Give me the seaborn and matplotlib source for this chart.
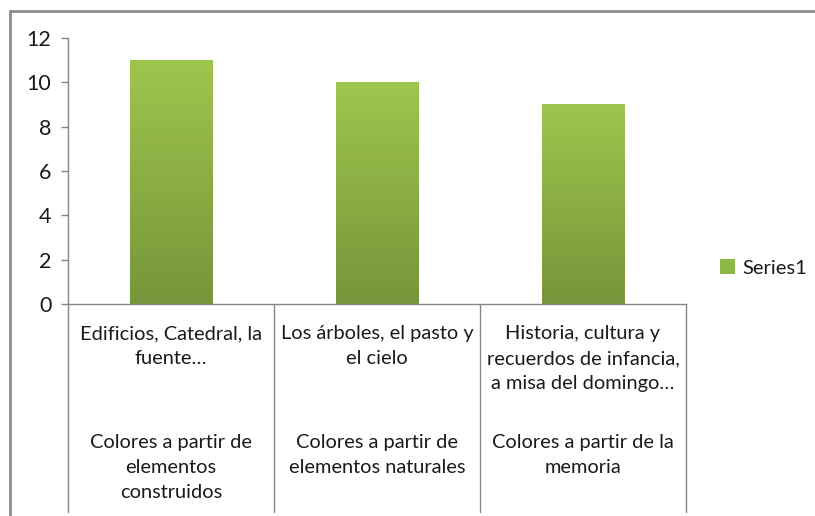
import matplotlib
matplotlib.use("Agg")
import matplotlib.pyplot as plt
import numpy as np
import pandas as pd
import seaborn as sns
from matplotlib.lines import Line2D
from matplotlib.patches import Patch
from matplotlib.colors import LinearSegmentedColormap

# Data
top_labels = ["Edificios, Catedral, la\nfuente…",
              "Los árboles, el pasto y\nel cielo",
              "Historia, cultura y\nrecuerdos de infancia,\na misa del domingo…"]
group_labels = ["Colores a partir de\nelementos\nconstruidos",
                "Colores a partir de\nelementos naturales",
                "Colores a partir de la\nmemoria"]
values = [11, 10, 9]
series_name = "Series1"
y_ticks = [0, 2, 4, 6, 8, 10, 12]

df = pd.DataFrame({"cat": top_labels, "value": values})

sns.set_style("white")
plt.rcParams['font.family'] = ['Lato', 'DejaVu Sans']

W, H = 815, 516
fig = plt.figure(figsize=(W / 100, H / 100), dpi=100)
ax = fig.add_axes([68 / W, (H - 304) / H, (686 - 68) / W, (304 - 38) / H])

sns.barplot(data=df, x="cat", y="value", color="#8db848", width=0.4, ax=ax,
            saturation=1, zorder=3)

# gradient fill on the bars
grad = LinearSegmentedColormap.from_list("g", ["#76953a", "#9ec64d"])
for p in ax.patches:
    x0, y0 = p.get_x(), p.get_y()
    w, h = p.get_width(), p.get_height()
    im = ax.imshow(np.linspace(0, 1, 256).reshape(-1, 1), cmap=grad, origin="lower",
                   extent=[x0, x0 + w, y0, y0 + h], aspect="auto", zorder=4)
    im.set_clip_path(p)
    p.set_edgecolor("none")

ax.set_xlim(-0.5, 2.5)
ax.set_ylim(0, 12)
ax.set_yticks(y_ticks)
ax.tick_params(axis="y", labelsize=15.5, length=5, width=1, color="#868686",
               left=True, pad=7, labelcolor="#1a1a1a")
ax.set_xticks([])
ax.set_xlabel("")
ax.set_ylabel("")
for s in ["top", "right"]:
    ax.spines[s].set_visible(False)
for s in ["left", "bottom"]:
    ax.spines[s].set_color("#868686")
    ax.spines[s].set_linewidth(1)

# category axis: separators and two label levels
low = -(512 - 304) / (304 - 38)
trans = ax.get_xaxis_transform()
for xb in [-0.5, 0.5, 1.5, 2.5]:
    ax.plot([xb, xb], [0, low], transform=trans, color="#868686", lw=1, clip_on=False)
for i in range(len(values)):
    ax.text(i, -(325 - 304) / 266, top_labels[i], transform=trans, ha="center", va="top",
            fontsize=14.4, linespacing=1.58, color="#1a1a1a")
    ax.text(i, -(434 - 304) / 266, group_labels[i], transform=trans, ha="center", va="top",
            fontsize=14.4, linespacing=1.58, color="#1a1a1a")

# legend
handles = [Patch(facecolor="#8db848", edgecolor="none")]
fig.legend(handles, [series_name], loc="center left", bbox_to_anchor=(720 / W, (H - 268) / H),
           frameon=False, fontsize=14.5, handlelength=0.75, handleheight=0.75, handletextpad=0.35,
           borderpad=0, borderaxespad=0, labelcolor="#1a1a1a")

# outer chart border
fig.add_artist(Line2D([10 / W, 1], [(H - 11) / H] * 2, color="#8c8c8c", lw=2))
fig.add_artist(Line2D([10 / W] * 2, [0, (H - 11) / H], color="#8c8c8c", lw=2))

fig.savefig("out.png", dpi=100)
